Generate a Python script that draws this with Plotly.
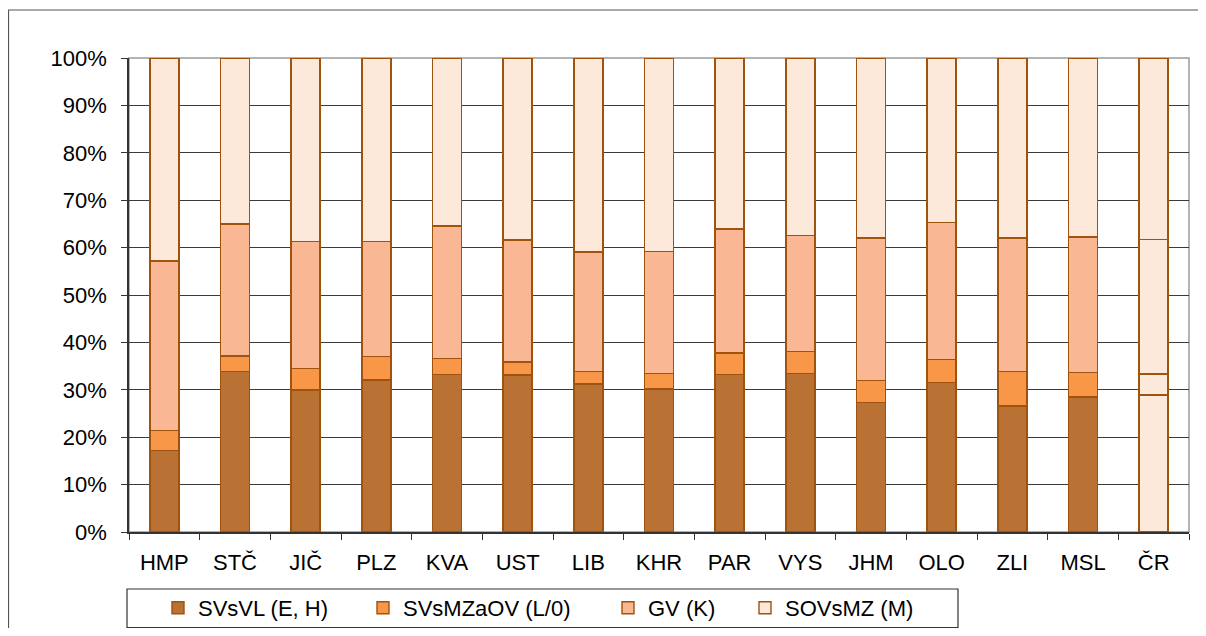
import plotly.graph_objects as go

regions = ["HMP", "STČ", "JIČ", "PLZ", "KVA", "UST", "LIB", "KHR", "PAR", "VYS",
           "JHM", "OLO", "ZLI", "MSL", "ČR"]

svsvl = [17.2, 33.8, 30.0, 32.1, 33.2, 33.1, 31.2, 30.2, 33.2, 33.4, 27.3, 31.5, 26.6, 28.5, 28.9]
svsmzaov = [4.2, 3.3, 4.5, 4.9, 3.4, 2.8, 2.6, 3.3, 4.6, 4.7, 4.7, 4.9, 7.3, 5.2, 4.4]
gv = [35.8, 27.9, 26.8, 24.3, 28.0, 25.7, 25.3, 25.7, 26.1, 24.5, 30.0, 28.9, 28.1, 28.5, 28.4]
sovsmz = [42.8, 35.0, 38.7, 38.7, 35.4, 38.4, 40.9, 40.8, 36.1, 37.4, 38.0, 34.7, 38.0, 37.8, 38.3]

series_names = ["SVsVL (E, H)", "SVsMZaOV (L/0)", "GV (K)", "SOVsMZ (M)"]
series_values = [svsvl, svsmzaov, gv, sovsmz]
series_colors = ["#B97234", "#F79747", "#F9B793", "#FDE9DA"]
total_color = "#FDE9DA"  # the ČR bar is drawn in one light colour
outline = "#A0520F"

FONT = "Liberation Sans, Arial, sans-serif"

# figure is placed by the page at (8, 8); all pixel positions below are in figure space
W, H = 1190, 620
ml, mr, mt, mb = 121, 9, 50, 96
pw, ph = W - ml - mr, H - mt - mb


def px_x(p):
    return (p - ml) / pw


def px_y(p):
    return 1 - (p - mt) / ph


legend_left = [150, 355, 600, 737]
legend_keys = ["legend", "legend2", "legend3", "legend4"]

fig = go.Figure()
for name, vals, col, lk in zip(series_names, series_values, series_colors, legend_keys):
    colors = [col] * (len(regions) - 1) + [total_color]
    fig.add_trace(go.Bar(
        x=regions, y=vals, name=name,
        width=0.41,
        legend=lk,
        marker=dict(color=colors, line=dict(color=outline, width=1.4)),
    ))

legend_layout = {}
for lk, lx in zip(legend_keys, legend_left):
    legend_layout[lk] = dict(
        orientation="h",
        x=px_x(lx), xanchor="left",
        y=px_y(579), yanchor="top",
        borderwidth=0,
        bgcolor="rgba(0,0,0,0)",
        font=dict(family=FONT, size=22, color="black"),
        itemwidth=30,
    )

fig.update_layout(
    width=W, height=H,
    barmode="stack",
    margin=dict(l=ml, r=mr, t=mt, b=mb, autoexpand=False),
    paper_bgcolor="white",
    plot_bgcolor="white",
    font=dict(family=FONT, size=22, color="black"),
    showlegend=True,
    xaxis=dict(
        type="category",
        showline=True, linecolor="#333333", linewidth=1.5,
        ticks="outside", ticklen=6, tickcolor="#333333", tickwidth=1,
        tickson="boundaries",
        ticklabelstandoff=10,
        showgrid=False,
        tickfont=dict(family=FONT, size=22, color="black"),
        fixedrange=True,
    ),
    yaxis=dict(
        range=[0, 100], dtick=10, ticksuffix="%",
        showline=True, linecolor="#333333", linewidth=1.5,
        ticks="outside", ticklen=6, tickcolor="#333333", tickwidth=1,
        ticklabelstandoff=10,
        showgrid=True, gridcolor="#3a3a3a", gridwidth=1,
        zeroline=False,
        tickfont=dict(family=FONT, size=22, color="black"),
        fixedrange=True,
    ),
    shapes=[
        dict(type="rect", xref="paper", yref="paper",
             x0=0, x1=1, y0=0, y1=1,
             line=dict(color="#9a9a9a", width=1.5), layer="below"),
        dict(type="rect", xref="paper", yref="paper",
             x0=px_x(0.5), x1=px_x(1200), y0=px_y(2), y1=px_y(630),
             line=dict(color="#555555", width=1.2), layer="below"),
        dict(type="rect", xref="paper", yref="paper",
             x0=px_x(119), x1=px_x(950), y0=px_y(581), y1=px_y(619.5),
             line=dict(color="#333333", width=1.2), layer="below"),
    ],
    **legend_layout,
)

fig.write_html("out.html")
